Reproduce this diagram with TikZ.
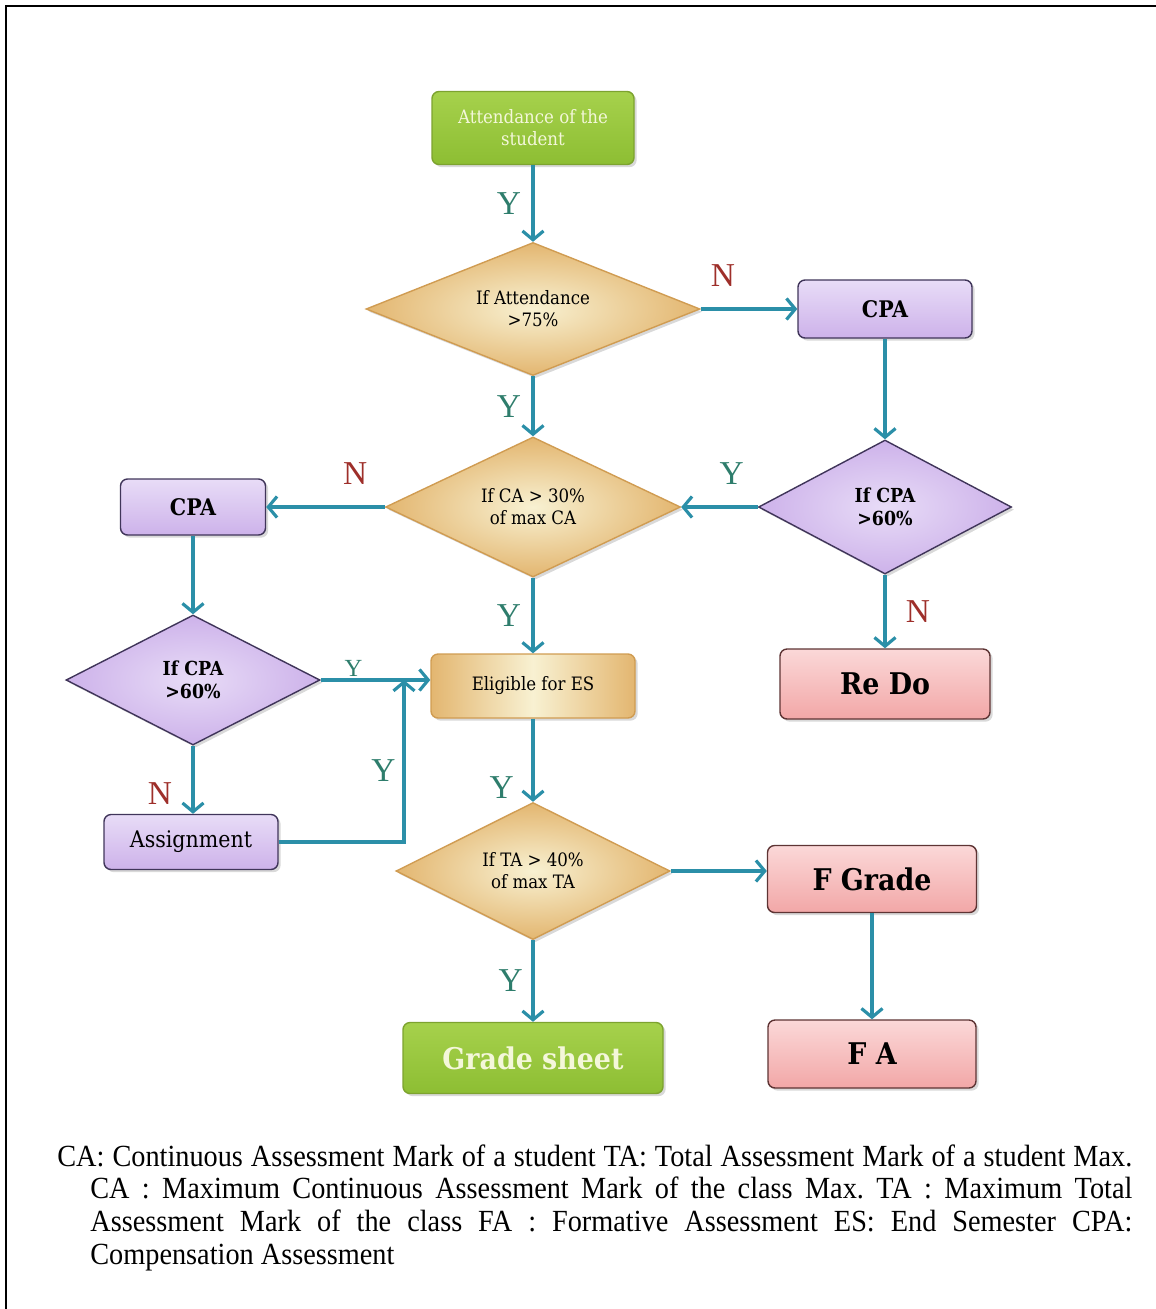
\documentclass[tikz,border=0pt]{standalone}
\usepackage{fontspec}
\setmainfont{Liberation Serif}
\newfontfamily\boxfont{DejaVu Serif Condensed}
\newfontfamily\notefont[FakeStretch=0.92]{Liberation Serif}
\usetikzlibrary{arrows.meta,shapes.geometric,shadows,calc}
\frenchspacing

\definecolor{flowblue}{HTML}{2B8FA8}
\definecolor{yescol}{HTML}{2E7D6C}
\definecolor{nocol}{HTML}{9E2F2A}
\definecolor{greenedge}{HTML}{7DA32F}
\definecolor{greentop}{HTML}{A6D14C}
\definecolor{greenbot}{HTML}{8DBE33}
\definecolor{greentext}{HTML}{F4F7DA}
\definecolor{purpleedge}{HTML}{40355A}
\definecolor{purpletop}{HTML}{E8DCF7}
\definecolor{purplebot}{HTML}{CDB2EA}
\definecolor{pinkedge}{HTML}{5E3434}
\definecolor{pinktop}{HTML}{FBD8D8}
\definecolor{pinkbot}{HTML}{F2A7A7}
\definecolor{goldedge}{HTML}{D09C52}
\definecolor{goldmid}{HTML}{F8F1D2}
\definecolor{goldout}{HTML}{E3B670}

\def\unitpx{0.02cm}

\tikzset{
  base/.style={font=\boxfont, align=center, inner sep=2pt, line width=0.8pt,
    drop shadow={shadow xshift=1.5pt, shadow yshift=-1.5pt, opacity=0.3}},
  greenbox/.style={base, rectangle, rounded corners=4pt, draw=greenedge,
    top color=greentop, bottom color=greenbot, text=greentext},
  purplebox/.style={base, rectangle, rounded corners=4pt, draw=purpleedge,
    top color=purpletop, bottom color=purplebot},
  pinkbox/.style={base, rectangle, rounded corners=4pt, draw=pinkedge,
    top color=pinktop, bottom color=pinkbot},
  goldbox/.style={base, rectangle, rounded corners=4pt, draw=goldedge,
    left color=goldout, right color=goldout, middle color=goldmid},
  golddiam/.style={base, diamond, aspect=2.4, inner sep=0pt, draw=goldedge,
    inner color=goldmid, outer color=goldout},
  purplediam/.style={base, diamond, aspect=2, inner sep=0pt, draw=purpleedge,
    inner color=purpletop, outer color=purplebot},
  flow/.style={draw=flowblue, line width=1.8pt,
    -{Straight Barb[length=5pt,width=12pt]}},
  yes/.style={text=yescol, inner sep=1pt, font=\fontsize{19}{19}\selectfont},
  no/.style={text=nocol, inner sep=1pt, font=\fontsize{19}{19}\selectfont},
  small/.style={font=\fontsize{10.5}{12.5}\selectfont\boxfont},
  smallbold/.style={font=\fontsize{11}{13}\selectfont\boxfont\bfseries},
  big/.style={font=\fontsize{17}{20}\selectfont\boxfont\bfseries}
}

\begin{document}
\begin{tikzpicture}[x=\unitpx, y=-\unitpx]
  \useasboundingbox (0,0) rectangle (1156,1309);
  % Frame
  \draw[line width=1.2pt] (6,1309) -- (6,6) -- (1156,6);

  % Centre column
  \node[greenbox, small, minimum width=202*\unitpx, minimum height=73*\unitpx]
    (start) at (533,128) {Attendance of the\\student};
  \node[golddiam, small, minimum width=334*\unitpx, minimum height=133*\unitpx]
    (att) at (533,309) {If Attendance\\>75\%};
  \node[golddiam, small, minimum width=295*\unitpx, minimum height=140*\unitpx]
    (ca) at (533,507) {If CA > 30\%\\of max CA};
  \node[goldbox, small, minimum width=204*\unitpx, minimum height=64*\unitpx]
    (elig) at (533,686) {Eligible for ES};
  \node[golddiam, small, minimum width=274*\unitpx, minimum height=137*\unitpx]
    (ta) at (533,871) {If TA > 40\%\\of max TA};
  \node[greenbox, big, minimum width=260*\unitpx, minimum height=71*\unitpx]
    (sheet) at (533,1058) {Grade sheet};

  % Right column
  \node[purplebox, font=\fontsize{13}{15}\selectfont\boxfont\bfseries,
    minimum width=174*\unitpx, minimum height=58*\unitpx]
    (cpaR) at (885,309) {CPA};
  \node[purplediam, smallbold, minimum width=253*\unitpx, minimum height=134*\unitpx]
    (cpaTestR) at (885,507) {If CPA\\>60\%};
  \node[pinkbox, big, minimum width=210*\unitpx, minimum height=70*\unitpx]
    (redo) at (885,684) {Re Do};
  \node[pinkbox, big, minimum width=209*\unitpx, minimum height=67*\unitpx]
    (fgrade) at (872,879) {F Grade};
  \node[pinkbox, big, minimum width=208*\unitpx, minimum height=68*\unitpx]
    (fa) at (872,1054) {F A};

  % Left column
  \node[purplebox, font=\fontsize{13}{15}\selectfont\boxfont\bfseries,
    minimum width=145*\unitpx, minimum height=56*\unitpx]
    (cpaL) at (193,507) {CPA};
  \node[purplediam, smallbold, minimum width=254*\unitpx, minimum height=130*\unitpx]
    (cpaTestL) at (193,680) {If CPA\\>60\%};
  \node[purplebox, font=\fontsize{13}{15}\selectfont\boxfont,
    minimum width=174*\unitpx, minimum height=55*\unitpx]
    (assign) at (191,842) {Assignment};
  \coordinate (merge) at (404,680);

  % Connectors
  \draw[flow] (start) -- node[yes, left=5pt] {Y} (att);
  \draw[flow] (att.east) -- node[no, pos=0.23, above=11pt] {N} (att.east -| cpaR.west);
  \draw[flow] (att) -- node[yes, left=5pt] {Y} (ca);
  \draw[flow] (cpaR) -- (cpaTestR);
  \draw[flow] (cpaTestR.west) -- node[yes, pos=0.34, above=11pt] {Y} (ca.east);
  \draw[flow] (cpaTestR) -- node[no, right=10pt] {N} (redo);
  \draw[flow] (ca.west) -- node[no, pos=0.25, above=11pt] {N} (cpaL.east);
  \draw[flow] (ca) -- node[yes, left=5pt] {Y} (elig);
  \draw[flow] (cpaL) -- (cpaTestL);
  \draw[flow] (cpaTestL.east) -- node[yes, pos=0.3, above=0pt,
    font=\fontsize{14}{14}\selectfont] {Y} (cpaTestL.east -| elig.west);
  \draw[flow] (cpaTestL) -- node[no, pos=0.7, left=10pt] {N} (cpaTestL |- assign.north);
  \draw[flow] (assign.east) -| node[yes, pos=0.72, left=3pt] {Y} (merge);
  \draw[flow] (elig) -- node[yes, pos=0.83, left=9pt] {Y} (ta);
  \draw[flow] (ta.east) -- (ta.east -| fgrade.west);
  \draw[flow] (fgrade) -- (fa);
  \draw[flow] (ta) -- node[yes, left=4pt] {Y} (sheet);

  % Legend
  \node[anchor=north west, text width=1075*\unitpx, align=justify, inner sep=0pt,
    font=\notefont\fontsize{17.5}{18.7}\selectfont] (legend) at (57,1144)
    {\hangindent=0.66cm \hangafter=1
     CA: Continuous Assessment Mark of a student TA: Total Assessment Mark of a student Max.\linebreak
     CA : Maximum Continuous Assessment Mark of the class Max. TA : Maximum Total\linebreak
     Assessment Mark of the class FA : Formative Assessment ES: End Semester CPA:\linebreak
     Compensation Assessment\par};
\end{tikzpicture}
\end{document}
